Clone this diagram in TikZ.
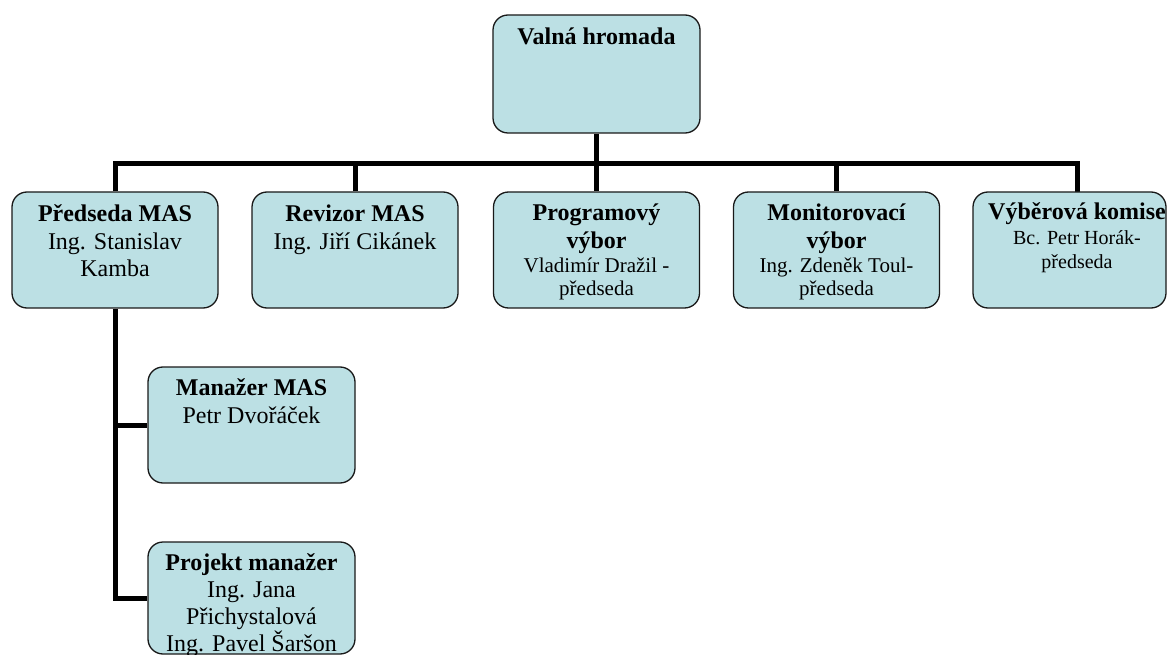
\documentclass[tikz,border=0pt]{standalone}
\usepackage{fontspec}
\setmainfont{Liberation Serif}
\usetikzlibrary{backgrounds}
\definecolor{boxfill}{RGB}{188,224,228}
\definecolor{boxline}{RGB}{25,25,25}
\begin{document}
\begin{tikzpicture}[x=1pt,y=-1pt,
  box/.style={draw=boxline, line width=1.3pt, rounded corners=15pt, fill=boxfill, inner sep=0pt},
  rowbox/.style={box, minimum width=206pt, minimum height=116pt},
  conn/.style={draw=black, line width=5pt, line join=miter},
  txt/.style={anchor=base, inner sep=0pt}]
\useasboundingbox (0,0) rectangle (1168,655);

% connector anchor points
\coordinate (hub) at (596.5,164);
\coordinate (c5) at (1077,192);

% boxes
\node[box, minimum width=207pt, minimum height=118pt] (vh) at (596.5,74) {};
\node[rowbox] (b1) at (115,250) {};
\node[rowbox] (b2) at (355,250) {};
\node[rowbox] (b3) at (596.5,250) {};
\node[rowbox] (b4) at (836.5,250) {};
\node[box, minimum width=193pt, minimum height=116pt] (b5) at (1069.5,250) {};
\node[box, minimum width=207pt, minimum height=116pt] (mm) at (251.5,425) {};
\node[box, minimum width=207pt, minimum height=112pt] (pm) at (251.5,598) {};

% connectors (behind boxes)
\begin{scope}[on background layer]
\draw[conn] (vh.south) -- (hub);
\draw[conn] (b1.north) |- (hub) -| (c5);
\draw[conn] (b2.north) -- (b2.north |- hub);
\draw[conn] (hub) -- (b3.north);
\draw[conn] (b4.north) -- (b4.north |- hub);
\draw[conn] (b1.south) |- (pm.west);
\draw[conn] (b1.south |- mm.west) -- (mm.west);
\end{scope}

% texts
\node[txt] (vht) at (596.5,45) {\parbox[t]{200pt}{\centering\fontsize{24}{27.5}\selectfont\bfseries Valná hromada}};
\node[txt] (b1t) at (115,222) {\parbox[t]{220pt}{\centering\fontsize{24}{27.5}\selectfont\textbf{Předseda MAS}\\Ing. Stanislav\\Kamba}};
\node[txt] (b2t) at (355,222) {\parbox[t]{220pt}{\centering\fontsize{24}{27.5}\selectfont\textbf{Revizor MAS}\\Ing. Jiří Cikánek}};
\node[txt] (b3t) at (596.5,221) {\parbox[t]{220pt}{\centering\fontsize{24}{28}\selectfont\bfseries Programový\\výbor\par\fontsize{21}{23.5}\selectfont\mdseries Vladimír Dražil -\\předseda}};
\node[txt] (b4t) at (836.5,221) {\parbox[t]{220pt}{\centering\fontsize{24}{28}\selectfont\bfseries Monitorovací\\výbor\par\fontsize{21}{23.5}\selectfont\mdseries Ing. Zdeněk Toul-\\předseda}};
\node[txt] (b5t) at (1077,220) {\parbox[t]{230pt}{\centering\fontsize{24}{25}\selectfont\bfseries Výběrová komise\par\fontsize{20}{24.5}\selectfont\mdseries Bc. Petr Horák-\\předseda}};
\node[txt] (mmt) at (251.5,395) {\parbox[t]{220pt}{\centering\fontsize{24}{28}\selectfont\textbf{Manažer MAS}\\Petr Dvořáček}};
\node[txt] (pmt) at (251.5,570) {\parbox[t]{220pt}{\centering\fontsize{24}{27.3}\selectfont\textbf{Projekt manažer}\\Ing. Jana\\Přichystalová\\Ing. Pavel Šaršon}};
\end{tikzpicture}
\end{document}
